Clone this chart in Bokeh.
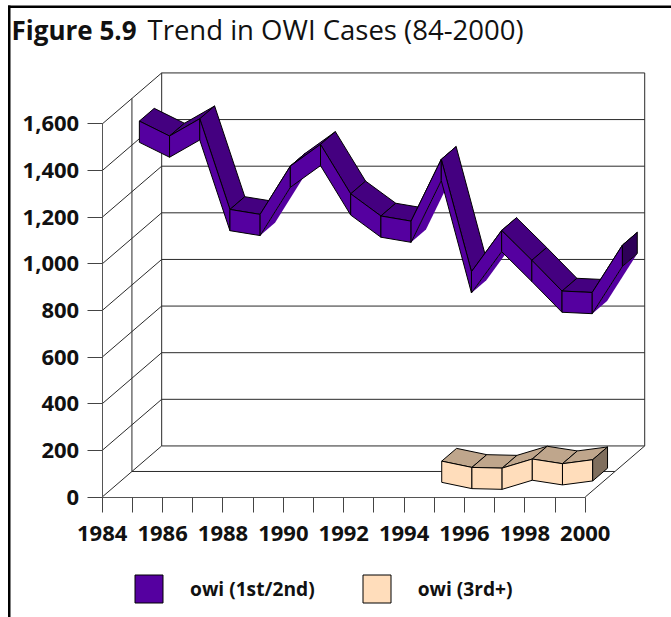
from bokeh.embed import file_html
from bokeh.models import (BoxAnnotation, ColumnDataSource, FixedTicker, Label, Legend, LegendItem,
                          NumeralTickFormatter, Range1d)
from bokeh.plotting import figure
from bokeh.resources import INLINE

years_1 = [1984, 1985, 1986, 1987, 1988, 1989, 1990, 1991, 1992, 1993, 1994, 1995, 1996, 1997, 1998, 1999, 2000]
owi_1st_2nd = [1430, 1366, 1440, 1051, 1030, 1237, 1330, 1118, 1023, 1001, 1266, 784, 961, 833, 701, 695, 898]
years_2 = [1995, 1996, 1997, 1998, 1999, 2000]
owi_3rd = [81, 54, 51, 90, 70, 87]
y_ticks = [0, 200, 400, 600, 800, 1000, 1200, 1400, 1600]
x_labels = [1984, 1986, 1988, 1990, 1992, 1994, 1996, 1998, 2000]
x_minor = [1985, 1987, 1989, 1991, 1993, 1995, 1997, 1999]

DX, DY = 1.97, 219.0     # oblique projection of full depth, in axis units
HALF = 45.5              # half ribbon thickness
RIBBON = 0.25            # ribbon depth as a fraction of full depth
WALL = "#2a2a2a"
PX_X, PX_Y = 30.19, 0.23313
W, H = 671, 617


def proj(x, y, d):
    return x + DX * d, y + DY * d


x0_ = 1984 - 101.7 / PX_X
y0_ = -(H - 496.5) / PX_Y
p = figure(width=W, height=H, output_backend="svg", toolbar_location=None,
           x_range=Range1d(x0_, x0_ + W / PX_X), y_range=Range1d(y0_, y0_ + H / PX_Y),
           min_border_left=0, min_border_right=0, min_border_top=0, min_border_bottom=0,
           outline_line_color=None)
p.grid.visible = False

# walls and floor
wx, wy = [], []
for v in y_ticks:
    a, b = proj(1984, v, 1)
    wx.append([1984, a]); wy.append([v, b])
    wx.append([a, 2000 + DX]); wy.append([b, b])
wx.append(list(proj(1984, 0, .5))[:1] + [proj(2000, 0, .5)[0]])
wy.append([proj(1984, 0, .5)[1]] * 2)
wx.append([proj(1984, 0, .5)[0]] * 2); wy.append([proj(0, 0, .5)[1], proj(0, 1600, .5)[1]])
wx.append([proj(1984, 0, 1)[0]] * 2); wy.append([proj(0, 0, 1)[1], proj(0, 1600, 1)[1]])
wx.append([2000 + DX] * 2); wy.append([proj(0, 0, 1)[1], proj(0, 1600, 1)[1]])
wx.append([2000, 2000 + DX]); wy.append([0, DY])
p.multi_line(wx, wy, line_color=WALL, line_width=1)


def ribbon(years, vals, d0, front, top, cap):
    xs, ys, fills, alphas = [], [], [], []
    d1 = d0 + RIBBON
    first_front = None

    def face(corners, fill, a=1.0):
        pts = [proj(*c) for c in corners]
        xs.append([q[0] for q in pts]); ys.append([q[1] for q in pts])
        fills.append(fill); alphas.append(a)

    for i in range(len(years) - 1):
        x0, x1, v0, v1 = years[i], years[i + 1], vals[i], vals[i + 1]
        if (v1 - v0) > DY / DX:
            face([(x0, v0 - HALF, d0), (x1, v1 - HALF, d0), (x1, v1 - HALF, d1), (x0, v0 - HALF, d1)], front, 0.0)
        face([(x0, v0 + HALF, d0), (x1, v1 + HALF, d0), (x1, v1 + HALF, d1), (x0, v0 + HALF, d1)], top)
        if first_front is None:
            first_front = len(xs)
        face([(x0, v0 + HALF, d0), (x1, v1 + HALF, d0), (x1, v1 - HALF, d0), (x0, v0 - HALF, d0)], front)
    x, v = years[-1], vals[-1]
    face([(x, v + HALF, d0), (x, v + HALF, d1), (x, v - HALF, d1), (x, v - HALF, d0)], cap)
    src = ColumnDataSource(dict(xs=xs, ys=ys, fill=fills, alpha=alphas))
    r = p.patches("xs", "ys", source=src, fill_color="fill", line_color="black", line_alpha="alpha", line_width=1)
    return r, first_front


r1, i1 = ribbon(years_1, owi_1st_2nd, 0.625, "#5500A0", "#440080", "#2E0058")
r2, i2 = ribbon(years_2, owi_3rd, 0.125, "#FFDDBB", "#BFA68C", "#7F6E5D")

# axes, placed inside the frame at the corner of the floor
xa = p.xaxis[0]
xa.fixed_location = 0
xa.ticker = FixedTicker(ticks=x_labels, minor_ticks=x_minor)
xa.formatter = NumeralTickFormatter(format="0")
xa.bounds = (1984, 2000)
xa.major_tick_in = 0; xa.major_tick_out = 15
xa.minor_tick_in = 0; xa.minor_tick_out = 15
xa.major_label_standoff = 14
xa.axis_line_color = "#555555"; xa.major_tick_line_color = "#444444"; xa.minor_tick_line_color = "#444444"
ya = p.yaxis[0]
ya.fixed_location = 1984
ya.ticker = FixedTicker(ticks=y_ticks)
ya.formatter = NumeralTickFormatter(format="0,0")
ya.bounds = (0, 1600)
ya.major_tick_in = 0; ya.major_tick_out = 15
ya.minor_tick_in = 0; ya.minor_tick_out = 0
ya.major_label_standoff = 8
ya.axis_line_color = "#555555"; ya.major_tick_line_color = "#444444"
for ax in (xa, ya):
    ax.major_label_text_font = "Open Sans"
    ax.major_label_text_font_style = "bold"
    ax.major_label_text_font_size = "22px"
    ax.major_label_text_color = "#111111"

# page rules
p.add_layout(BoxAnnotation(left=7.5, right=10, top=5, bottom=H, left_units="canvas", right_units="canvas",
                           top_units="canvas", bottom_units="canvas", fill_color="black", fill_alpha=1,
                           line_color=None))
p.add_layout(BoxAnnotation(left=7.5, right=W, top=5, bottom=7.5, left_units="canvas", right_units="canvas",
                           top_units="canvas", bottom_units="canvas", fill_color="black", fill_alpha=1,
                           line_color=None))

# title
p.add_layout(Label(x=11, y=29, x_units="canvas", y_units="canvas", text="Figure 5.9", text_font="Open Sans",
                   text_font_style="bold", text_font_size="26px", text_baseline="middle", text_color="#111111"))
p.add_layout(Label(x=147, y=29, x_units="canvas", y_units="canvas", text="Trend in OWI Cases (84-2000)",
                   text_font="Open Sans", text_font_size="27.5px", text_baseline="middle", text_color="#111111"))

# legend
legend = Legend(items=[LegendItem(label="owi (1st/2nd)", renderers=[r1], index=i1),
                       LegendItem(label="owi (3rd+)", renderers=[r2], index=i2)],
                orientation="horizontal", location=(131, 11), border_line_color=None,
                background_fill_alpha=0, glyph_width=35, glyph_height=35, label_standoff=24, spacing=44,
                padding=0, margin=0, label_text_font="Open Sans", label_text_font_style="bold",
                label_text_font_size="19.2px", label_text_color="#111111", click_policy="none")
p.add_layout(legend)

open("out.html", "w").write(file_html(p, INLINE))
